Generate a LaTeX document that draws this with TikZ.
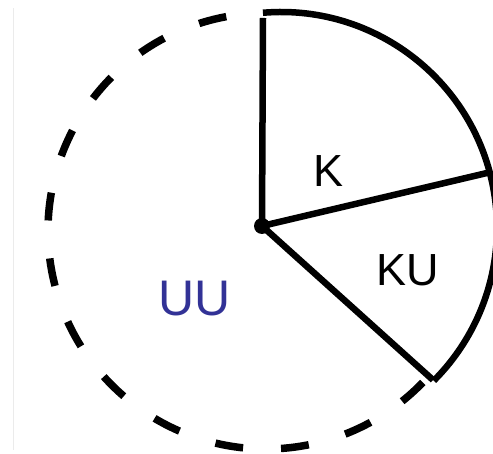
\documentclass[tikz,border=0pt]{standalone}
\usepackage{fontspec}
\setmainfont{Liberation Sans}
\definecolor{uublue}{RGB}{50,50,150}
\tikzset{
  solidline/.style={line width=6.5pt, black},
  dashline/.style={line width=7.5pt, black, dash pattern=on 28pt off 38pt},
  lbl/.style={inner sep=0pt, font=\fontsize{45}{50}\selectfont},
  uulbl/.style={inner sep=0pt, text=uublue, font=\fontsize{50}{55}\selectfont},
  hub/.style={circle, fill=black, inner sep=0pt, minimum size=16pt}
}
\begin{document}
\begin{tikzpicture}[x=1pt,y=1pt]
\useasboundingbox (0,0) rectangle (493,454);
% faint frame line at left
\draw[black!8, line width=1pt] (13,446) -- (13,4);
% points
\coordinate (T) at (263,436);
\coordinate (R) at (487,281);
\coordinate (L) at (433,74);
% solid arc (sectors K and KU)
\draw[solidline] (281,226) ++(94.8:216) arc[start angle=94.8, end angle=-45, radius=216];
% dashed arc (UU)
\draw[dashline] (266,223) ++(100.5:218) arc[start angle=100.5, end angle=316.2, radius=218];
% radii
\node[hub] (O) at (262,228) {};
\draw[solidline] (O.center) -- (T);
\draw[solidline] (O.center) -- (R);
\draw[solidline] (O.center) -- (L);
% labels
\node[lbl] (K) at (329,283) {K};
\node[lbl] (KU) at (408,184) {KU};
\node[uulbl] (UU) at (195,155) {UU};
\end{tikzpicture}
\end{document}
